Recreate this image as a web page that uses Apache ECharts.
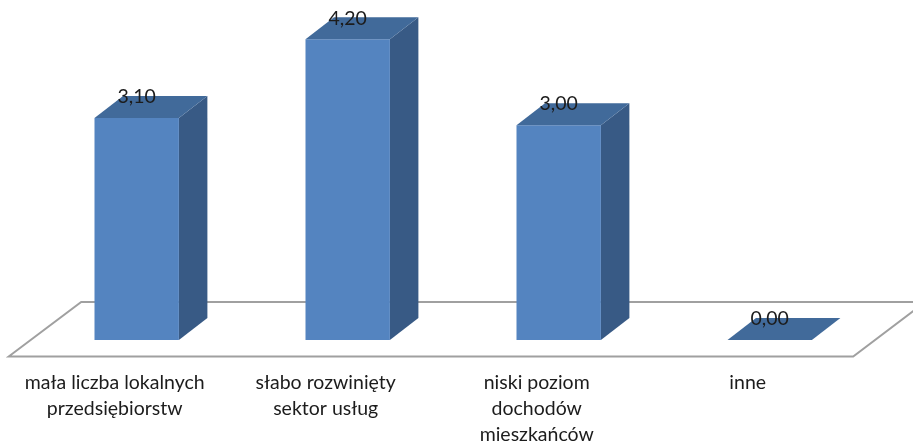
<!DOCTYPE html>
<html><head><meta charset="utf-8">
<style>html,body{margin:0;padding:0;background:#fff}#c{width:913px;height:447px}</style>
<script src="https://cdn.jsdelivr.net/npm/echarts@6/dist/echarts.min.js"></script>
</head><body><div id="c"></div>
<script>
const categories = ["mała liczba lokalnych\nprzedsiębiorstw", "słabo rozwinięty\nsektor usług", "niski poziom\ndochodów\nmieszkańców", "inne"];
const values = [3.10, 4.20, 3.00, 0.00];
const fontFamily = 'Lato, "Noto Sans", sans-serif';
const textColor = '#1c1c1c';
const chart = echarts.init(document.getElementById('c'), null, {renderer:'canvas'});

function renderFloor(params, api){
  const cs = params.coordSys;
  const y = api.coord([0, 0])[1];
  const l = cs.x, r = cs.x + cs.width;
  return {type:'polygon', silent:true, shape:{points:[
    [l-22.5, y+16.5],[l+50, y-38],[r+50, y-38],[r-22, y+16.5]
  ]}, style:{fill:'#fff', stroke:'#a0a0a0', lineWidth:2}};
}
function renderBar(params, api){
  const c = api.value(0), v = api.value(1);
  const base = api.coord([c, 0]), top = api.coord([c, v]);
  const w = api.size([1,0])[0] * 0.4;
  const x0 = base[0]-w/2, x1 = base[0]+w/2, y0 = base[1], y1 = top[1];
  const dx = 28.5, dy = 22;
  const children = [];
  if (v > 0) {
    children.push({type:'polygon', shape:{points:[[x1,y1],[x1+dx,y1-dy],[x1+dx,y0-dy],[x1,y0]]}, style:{fill:'#385a85'}});
    children.push({type:'rect', shape:{x:x0,y:y1,width:w,height:y0-y1}, style:{fill:'#5484c0'}});
  }
  children.push({type:'polygon', shape:{points:[[x0,y1],[x0+dx,y1-dy],[x1+dx,y1-dy],[x1,y1]]}, style:{fill:'#416a9a'}});
  children.push({type:'text', style:{text:v.toFixed(2).replace('.',','), x:base[0], y:y1-21, align:'center', verticalAlign:'middle', font:'19.5px '+fontFamily, fill:textColor}, z2:10});
  return {type:'group', children};
}
chart.setOption({
  animation:false,
  grid:{left:31.2, width:844, top:17.8, height:322.2, outerBoundsMode:'none'},
  xAxis:{type:'category', data:categories, axisLine:{show:false}, axisTick:{show:false}, splitLine:{show:false},
    axisLabel:{interval:0, margin:30, color:textColor, fontFamily, fontSize:19.5, lineHeight:26, padding:[0,44,0,0], align:'center', verticalAlign:'top'}},
  yAxis:{type:'value', min:0, max:4.5, show:false},
  series:[
    {type:'custom', coordinateSystem:'cartesian2d', renderItem:renderFloor, data:[[0,0]], z:1, clip:false, silent:true},
    {type:'custom', coordinateSystem:'cartesian2d', renderItem:renderBar, encode:{x:0,y:1}, data:values.map((v,i)=>[i,v]), z:2, clip:false}
  ]
});
</script></body></html>
